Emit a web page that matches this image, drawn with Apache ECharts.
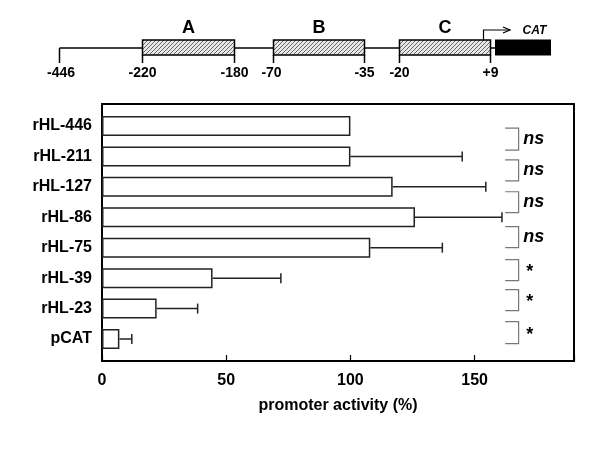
<!DOCTYPE html>
<html><head><meta charset="utf-8">
<script src="https://cdn.jsdelivr.net/npm/echarts@6/dist/echarts.min.js"></script>
<style>html,body{margin:0;padding:0;background:#fff}#c{width:600px;height:450px}</style>
</head><body><div id="c"></div>
<script>
// ---- data ----
const categories = ["rHL-446","rHL-211","rHL-127","rHL-86","rHL-75","rHL-39","rHL-23","pCAT"];
const means = [100, 100, 117, 126, 108, 44.5, 22, 7];
const errors = [0, 45, 37.5, 35, 29, 27.5, 16.5, 5];
const xTicks = [0, 50, 100, 150];
const bracketLabels = ["ns","ns","ns","ns","*","*","*"];
const bracketFrom = [0.07, 1.11, 2.16, 3.31, 4.39, 5.38, 6.43];
const bracketTo   = [0.79, 1.80, 2.85, 4.00, 5.08, 6.07, 7.15];
const mapLabels = ["-446","-220","-180","-70","-35","-20","+9"];
const regionNames = ["A","B","C"];

const FONT = "Liberation Sans, Arial, sans-serif";

// hatch pattern
const pc = document.createElement('canvas');
pc.width = 4; pc.height = 4;
const pctx = pc.getContext('2d');
pctx.fillStyle = '#e8e8e8'; pctx.fillRect(0,0,4,4);
pctx.strokeStyle = '#666'; pctx.lineWidth = 1;
pctx.beginPath(); pctx.moveTo(-1,5); pctx.lineTo(5,-1); pctx.stroke();
const hatch = {image: pc, repeat: 'repeat'};

// schematic (diagram, pixel layout)
const mapX = [59.5, 142.5, 234.5, 273.5, 364.5, 399.5, 490.5];
const lineY = 48, boxTop = 40, boxBot = 55, tickBot = 63;
const g = [];
function line(x1,y1,x2,y2,w){ g.push({type:'line',shape:{x1,y1,x2,y2},style:{stroke:'#000',lineWidth:w||1.5}}); }
function txt(t,x,y,size,extra){ g.push({type:'text',style:Object.assign({text:t,x,y,fontSize:size,fontWeight:'bold',fontFamily:FONT,fill:'#000',align:'center',verticalAlign:'middle'},extra||{})}); }
line(mapX[0], lineY, 495, lineY);
mapX.forEach(x=>line(x, x===mapX[0]?lineY:boxBot, x, tickBot));
[[1,2],[3,4],[5,6]].forEach(([a,b],i)=>{
  g.push({type:'rect',shape:{x:mapX[a],y:boxTop,width:mapX[b]-mapX[a],height:boxBot-boxTop},style:{fill:hatch,stroke:'#000',lineWidth:1.5}});
  txt(regionNames[i], (mapX[a]+mapX[b])/2, 28, 18);
});
g.push({type:'rect',shape:{x:495,y:39.5,width:56,height:16},style:{fill:'#000'}});
g.push({type:'polyline',shape:{points:[[483.5,40],[483.5,30],[510,30]]},style:{stroke:'#000',lineWidth:1.2,fill:null}});
g.push({type:'polyline',shape:{points:[[503,27],[510,30],[503,33]]},style:{stroke:'#000',lineWidth:1.2,fill:null}});
txt('CAT', 534.5, 31, 12, {fontStyle:'italic'});
mapLabels.forEach((l,i)=>txt(l, mapX[i]+(i===0?1.5:(i===3?-2:0)), 73, 14));

const chart = echarts.init(document.getElementById('c'));
chart.setOption({
  animation: false,
  grid: [
    {left: 102, right: 26, top: 104, bottom: 89, show: true, borderColor: '#000', borderWidth: 2, backgroundColor: 'transparent'},
    {left: 102, right: 26, top: 110.8, bottom: 95.8}
  ],
  xAxis: [
    {gridIndex: 0, type: 'value', min: 0, max: 190, interval: 50,
     axisLine: {show: false}, splitLine: {show: false},
     axisTick: {show: true, inside: true, length: 6, lineStyle: {color: '#000', width: 1.2}},
     axisLabel: {margin: 12, fontSize: 16, fontWeight: 'bold', fontFamily: FONT, color: '#000',
       formatter: v => xTicks.indexOf(v) >= 0 ? String(v) : ''},
     name: 'promoter activity (%)', nameLocation: 'middle', nameGap: 37,
     nameTextStyle: {fontSize: 16, fontWeight: 'bold', fontFamily: FONT, color: '#000'}},
    {gridIndex: 1, type: 'value', min: 0, max: 190, show: false}
  ],
  yAxis: [
    {gridIndex: 0, type: 'value', show: false},
    {gridIndex: 1, type: 'category', data: categories, inverse: true,
     axisLine: {show: false}, axisTick: {show: false},
     axisLabel: {margin: 10, fontSize: 16, fontWeight: 'bold', fontFamily: FONT, color: '#000'}}
  ],
  series: [
    {type: 'bar', xAxisIndex: 1, yAxisIndex: 1, data: means, barWidth: 20,
     itemStyle: {color: '#fff', borderColor: '#222', borderWidth: 1.5}},
    {type: 'custom', xAxisIndex: 1, yAxisIndex: 1,
     data: means.map((m,i)=>[m, i, m + errors[i]]),
     renderItem: function(params, api){
       const m = api.value(0), i = api.value(1), e = api.value(2);
       if (e <= m) return null;
       const p0 = api.coord([m, i]), p1 = api.coord([e, i]);
       return {type: 'group', children: [
         {type:'line', shape:{x1:p0[0],y1:p0[1],x2:p1[0],y2:p1[1]}, style:{stroke:'#222',lineWidth:1.5}},
         {type:'line', shape:{x1:p1[0],y1:p1[1]-5,x2:p1[0],y2:p1[1]+5}, style:{stroke:'#222',lineWidth:1.5}}
       ]};
     }},
    {type: 'custom', xAxisIndex: 1, yAxisIndex: 1, clip: false,
     data: bracketFrom.map((f,i)=>[f, bracketTo[i]]),
     renderItem: function(params, api){
       const f = api.value(0), t = api.value(1);
       const c0 = api.coord([162.3, 0]);
       const band = api.size([0, 1])[1];
       const xr = api.coord([167.7, 0])[0];
       const xt = api.coord([169.6, 0])[0];
       const y1 = c0[1] + f*band, y2 = c0[1] + t*band;
       const lab = bracketLabels[params.dataIndex];
       return {type: 'group', children: [
         {type:'polyline', shape:{points:[[c0[0],y1],[xr,y1],[xr,y2],[c0[0],y2]]}, style:{stroke:'#777',lineWidth:1.2,fill:null}},
         {type:'text', style:{text: lab, x: xt + (lab==='*'?3:0), y: (y1+y2)/2 + (lab==='*'?2:0), fontSize: 18, fontWeight:'bold', fontStyle: lab==='ns'?'italic':'normal', fontFamily: FONT, fill:'#000', align:'left', verticalAlign:'middle'}}
       ]};
     }}
  ],
  graphic: g
});
</script></body></html>
